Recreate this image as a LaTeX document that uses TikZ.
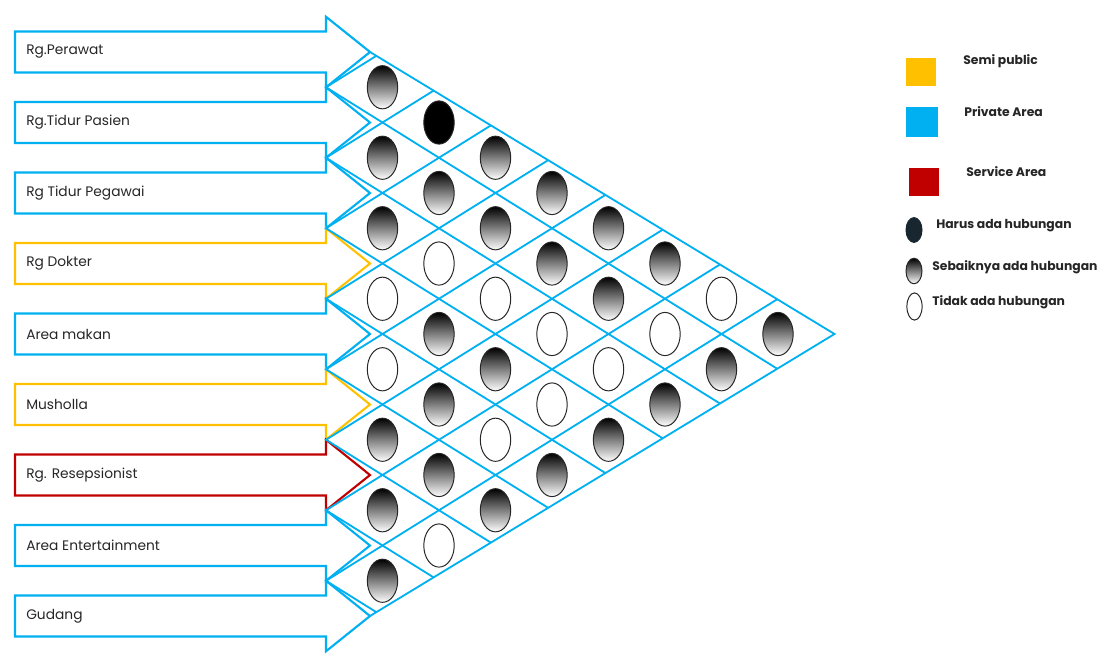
\documentclass[tikz,border=0pt]{standalone}
\usepackage{fontspec}
\setmainfont{Poppins}
\usetikzlibrary{calc,shapes.geometric}
\definecolor{biru}{RGB}{0,176,240}
\definecolor{kuning}{RGB}{255,192,0}
\definecolor{merah}{RGB}{192,0,0}
\definecolor{gelap}{RGB}{24,38,48}

\begin{document}
\begin{tikzpicture}[x=0.25mm,y=-0.25mm,
  ruang/.style={line width=1.5pt, line join=miter},
  kisi/.style={biru, line width=1.3pt},
  namaruang/.style={anchor=west, inner sep=0pt, text=black!85, font=\fontsize{9.8}{12}\selectfont},
  ket/.style={anchor=west, inner sep=0pt, text=black!85, font=\bfseries\fontsize{8.8}{10}\selectfont},
  sel/.style={ellipse, draw=black!85, line width=0.7pt, inner sep=0pt, minimum width=7.6mm, minimum height=10.8mm},
  harus/.style={sel, fill=black},
  baik/.style={sel, top color=black, bottom color=white},
  tidak/.style={sel, fill=white},
  kotak/.style={inner sep=0pt, minimum width=7.5mm, minimum height=7.2mm}]
  % Page frame
  \useasboundingbox (0,0) rectangle (1110,666);
  % Room arrows
  \foreach \r/\warna/\nama in {1/biru/Rg.Perawat, 2/biru/Rg.Tidur Pasien, 3/biru/Rg Tidur Pegawai,
      4/kuning/Rg Dokter, 5/biru/Area makan, 6/kuning/Musholla, 7/merah/Rg. Resepsionist,
      8/biru/Area Entertainment, 9/biru/Gudang}{
    \draw[ruang,\warna] (15,{52+70.5*(\r-1)}) ++(0,-20.5) -- ++(311,0) -- ++(0,-14.75)
      -- ++(44,35.25) -- ++(-44,35.25) -- ++(0,-14.75) -- ++(-311,0) -- cycle;
    \node[namaruang] (ruang\r) at (26,{52+70.5*(\r-1)}) {\nama};
  }
  % Relationship grid
  \coordinate (T1) at (370,52);
  \coordinate (T9) at (370,616);
  \coordinate (R) at (834.5,334);
  \draw[kisi] (T1) -- (R) -- (T9);
  \foreach \k in {1,...,8}{
    \coordinate (J\k) at (326,{16.75+70.5*\k});
    \coordinate (U\k) at ($(J\k)+(56.5,-35.25)$);
    \coordinate (D\k) at ($(J\k)+(56.5,35.25)$);
    \draw[kisi] (intersection cs: first line={(J\k)--(U\k)}, second line={(T1)--(R)})
      -- (J\k) -- (intersection cs: first line={(J\k)--(D\k)}, second line={(T9)--(R)});
  }
  % Relationship marks
  \foreach \i/\j/\jenis in {1/2/baik, 2/3/baik, 3/4/baik, 4/5/tidak, 5/6/tidak, 6/7/baik, 7/8/baik, 8/9/baik,
      1/3/harus, 2/4/baik, 3/5/tidak, 4/6/baik, 5/7/baik, 6/8/baik, 7/9/tidak,
      1/4/baik, 2/5/baik, 3/6/tidak, 4/7/baik, 5/8/tidak, 6/9/baik,
      1/5/baik, 2/6/baik, 3/7/tidak, 4/8/tidak, 5/9/baik,
      1/6/baik, 2/7/baik, 3/8/tidak, 4/9/baik,
      1/7/baik, 2/8/tidak, 3/9/baik,
      1/8/tidak, 2/9/baik,
      1/9/baik}{
    \node[\jenis] (c\i\j) at ({326+56.5*(\j-\i)},{52+70.5*((\i+\j)/2-1)}) {};
  }
  % Legend
  \node[kotak, fill=kuning] (kSemi) at (920.5,72) {};
  \node[ket] (tSemi) at (963,61) {Semi public};
  \node[kotak, fill=biru, minimum width=8mm, minimum height=7.5mm] (kPrivate) at (922,122) {};
  \node[ket] (tPrivate) at (964,112) {Private Area};
  \node[kotak, fill=merah] (kService) at (924,182) {};
  \node[ket] (tService) at (966,172) {Service Area};
  \node[harus, fill=gelap, draw=gelap, minimum width=4mm, minimum height=6.2mm] (lHarus) at (914,230) {};
  \node[ket] (tHarus) at (936,226) {Harus ada hubungan};
  \node[baik, minimum width=4mm, minimum height=6.4mm] (lBaik) at (914,271) {};
  \node[ket] (tBaik) at (932,267) {Sebaiknya ada hubungan};
  \node[tidak, minimum width=3.8mm, minimum height=6.8mm] (lTidak) at (914.5,306.5) {};
  \node[ket] (tTidak) at (932,302) {Tidak ada hubungan};
\end{tikzpicture}
\end{document}
